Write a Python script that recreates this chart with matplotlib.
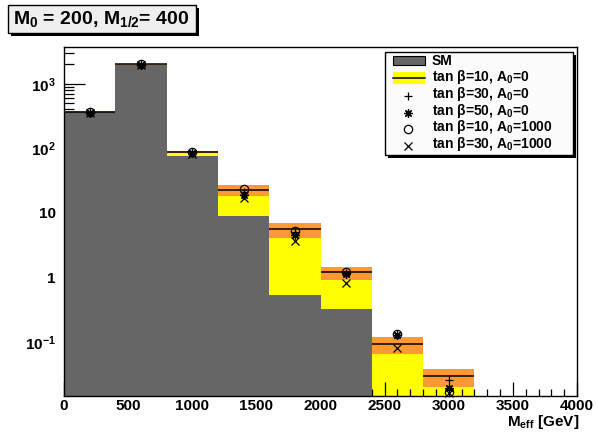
import numpy as np
import matplotlib
matplotlib.use("Agg")
import matplotlib.pyplot as plt
from matplotlib.patches import Rectangle
from matplotlib.lines import Line2D
from matplotlib.ticker import FixedLocator, MultipleLocator, NullFormatter

plt.rcParams['font.family'] = ['Liberation Sans', 'DejaVu Sans']
plt.rcParams['font.weight'] = 'bold'
plt.rcParams['mathtext.default'] = 'regular'

# M_eff binning (GeV)
edges = np.arange(0, 4001, 400)
centers = edges[:-1] + 200

# Standard model background
sm = np.array([360, 1980, 77, 9.06, 0.536, 0.325, 0, 0, 0, 0])
# SM + signal, tan(beta)=10, A0=0, with its uncertainty
sig_tb10 = np.array([368, 2000, 88, 22.9, 5.57, 1.20, 0.0935, 0.0296, 0, 0])
sig_err = np.array([8, 30, 3.5, 4.3, 1.5, 0.27, 0.028, 0.009, 0, 0])
# other parameter points
tb30 = np.array([362, 1990, 86, 21.0, 5.0, 1.18, 0.130, 0.026, 0, 0])
tb50 = np.array([355, 1960, 84, 18.9, 4.55, 1.15, 0.128, 0.0197, 0, 0])
tb10_a1000 = np.array([365, 2000, 88, 23.3, 5.3, 1.20, 0.135, 0.0168, 0, 0])
tb30_a1000 = np.array([350, 1950, 82, 16.8, 3.7, 0.82, 0.082, 0.0163, 0, 0])

ymin, ymax = 0.0147, 3700
floor = 1e-3

W, H = 597, 432
fig = plt.figure(figsize=(W / 100, H / 100), dpi=100)
ax = fig.add_axes([64 / W, 1 - 396 / H, (577 - 64) / W, (396 - 47) / H])
ax.set_yscale('log')

left = edges[:-1]
width = np.diff(edges)

m = sig_tb10 > 0
ax.bar(left[m], sig_tb10[m] - floor, width=width[m], bottom=floor,
       align='edge', color='#ffff00', linewidth=0, zorder=1)
m = sm > 0
ax.bar(left[m], sm[m] - floor, width=width[m], bottom=floor,
       align='edge', color='#666666', linewidth=0, zorder=2)
m = sig_err > 0
ax.bar(left[m], 2 * sig_err[m], width=width[m], bottom=sig_tb10[m] - sig_err[m],
       align='edge', color='#ff9933', linewidth=0, zorder=3)
m = sig_tb10 > 0
ax.hlines(sig_tb10[m], left[m], left[m] + width[m], colors='black',
          linewidth=1.1, zorder=4)

mk = dict(linestyle='none', color='black', markeredgewidth=0.9,
          zorder=5, clip_on=False)
series = [
    (tb30, '+', 6),
    (tb50, (8, 2, 0), 6),
    (tb10_a1000, 'o', 6),
    (tb30_a1000, 'x', 5.5),
]
for vals, marker, size in series:
    m = vals > 0
    ax.plot(centers[m], vals[m], marker=marker, markersize=size,
            markerfacecolor='none', **mk)

ax.set_xlim(0, 4000)
ax.set_ylim(ymin, ymax)

ax.xaxis.set_major_locator(MultipleLocator(500))
ax.xaxis.set_minor_locator(MultipleLocator(100))
ax.yaxis.set_major_locator(FixedLocator([0.1, 1, 10, 100, 1000]))
ax.set_yticklabels(['10$^{-1}$', '1', '10', '10$^{2}$', '10$^{3}$'])
minor = [s * 10.0 ** e for e in range(-2, 4) for s in range(2, 10)]
ax.yaxis.set_minor_locator(FixedLocator(minor))
ax.yaxis.set_minor_formatter(NullFormatter())

ax.tick_params(axis='both', which='both', direction='in', top=False,
               right=False, labelsize=11, width=0.9)
ax.tick_params(axis='x', which='major', length=10, pad=2.5)
ax.tick_params(axis='x', which='minor', length=5)
ax.tick_params(axis='y', which='major', length=15, pad=6)
ax.tick_params(axis='y', which='minor', length=7.5)
for lab in ax.get_xticklabels() + ax.get_yticklabels():
    lab.set_fontweight('bold')
for sp in ax.spines.values():
    sp.set_linewidth(1.0)


def fxy(x, y):
    return x / W, 1 - y / H


# axis title under the tick labels, flush right
fig.text(*fxy(579, 422), 'M$_{eff}$ [GeV]', fontsize=11, fontweight='bold',
         ha='right', va='center')


def framed_box(x0, y0, x1, y1, face, shadow=3):
    fx0, fy1 = fxy(x0, y1)
    fx1, fy0 = fxy(x1, y0)
    sx, sy = shadow / W, shadow / H
    fig.add_artist(Rectangle((fx0 + sx, fy1 - sy), fx1 - fx0, fy0 - fy1,
                             transform=fig.transFigure, facecolor='black',
                             edgecolor='black', linewidth=0, zorder=8))
    fig.add_artist(Rectangle((fx0, fy1), fx1 - fx0, fy0 - fy1,
                             transform=fig.transFigure, facecolor=face,
                             edgecolor='black', linewidth=1.0, zorder=9))


# parameter point box
framed_box(8, 5, 196, 33, '#efefef')
fig.text(*fxy(13, 19), 'M$_0$ = 200, M$_{1/2}$= 400', fontsize=14,
         fontweight='bold', va='center', ha='left', zorder=10)

# legend
framed_box(385, 52, 573, 155, '#fbfbfb', shadow=3)
rows = [60.7, 77.5, 94.3, 110.5, 127, 144]
labels = ['SM', 'tan β=10, A$_0$=0', 'tan β=30, A$_0$=0', 'tan β=50, A$_0$=0',
          'tan β=10, A$_0$=1000', 'tan β=30, A$_0$=1000']
for y, lab in zip(rows, labels):
    fig.text(*fxy(432, y), lab, fontsize=10, fontweight='bold',
             va='center', ha='left', zorder=10)

hx0, hx1 = 393, 425
bx, by = fxy(hx0, rows[0] + 4.5)
bx1, by1 = fxy(hx1, rows[0] - 4.5)
fig.add_artist(Rectangle((bx, by), bx1 - bx, by1 - by, transform=fig.transFigure,
                         facecolor='#666666', edgecolor='black', linewidth=0.8,
                         zorder=10))
bx, by = fxy(hx0, rows[1] + 6)
bx1, by1 = fxy(hx1, rows[1] - 6)
fig.add_artist(Rectangle((bx, by), bx1 - bx, by1 - by, transform=fig.transFigure,
                         facecolor='#ffff00', edgecolor='none', zorder=10))
lx0, ly = fxy(hx0, rows[1])
lx1, _ = fxy(hx1, rows[1])
fig.add_artist(Line2D([lx0, lx1], [ly, ly], transform=fig.transFigure,
                      color='black', linewidth=1.1, zorder=11))
for y, (vals, marker, size) in zip(rows[2:], series):
    px, py = fxy(408, y + 2)
    fig.add_artist(Line2D([px], [py], transform=fig.transFigure, marker=marker,
                          markersize=size, markerfacecolor='none',
                          color='black', markeredgewidth=0.9, linestyle='none',
                          zorder=11))

fig.savefig('out.png', dpi=100)
